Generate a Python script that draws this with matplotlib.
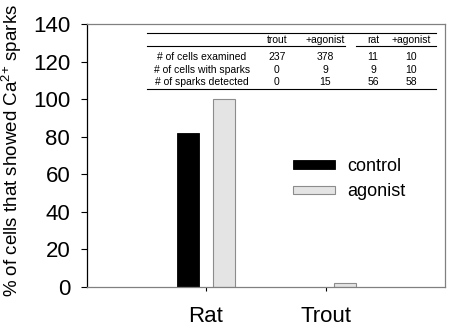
import matplotlib.pyplot as plt
import numpy as np

plt.rcParams['font.family'] = ['Liberation Sans', 'DejaVu Sans']
plt.rcParams['mathtext.fontset'] = 'custom'
plt.rcParams['mathtext.rm'] = 'Liberation Sans'
plt.rcParams['mathtext.it'] = 'Liberation Sans:italic'
plt.rcParams['mathtext.bf'] = 'Liberation Sans:bold'

# percent of cells showing sparks
species = ['Rat', 'Trout']
control = [82, 0]
agonist = [100, 2]

# counts table printed inside the plot
col_heads = ['trout', '+agonist', 'rat', '+agonist']
row_heads = ['# of cells examined', '# of cells with sparks', '# of sparks detected']
counts = [[237, 378, 11, 10],
          [0, 9, 9, 10],
          [0, 15, 56, 58]]

fig = plt.figure(figsize=(4.5, 3.26), dpi=100)
ax = fig.add_axes([0.193, 0.12, 0.796, 0.806])

x = np.arange(len(species))
w = 0.183
ax.bar(x - 0.148, control, w, color='black', edgecolor='black', linewidth=0.6,
       label='control', zorder=2)
ax.bar(x + 0.154, agonist, w, color='#e4e4e4', edgecolor='#8c8c8c', linewidth=0.8,
       label='agonist', zorder=2)

ax.set_xlim(-0.99, 1.99)
ax.set_ylim(0, 140)
ax.set_yticks(range(0, 141, 20))
ax.set_xticks(x)
ax.set_xticklabels(species, fontsize=16)
ax.tick_params(axis='y', labelsize=16, direction='out', length=4, width=0.8, pad=8)
ax.tick_params(axis='x', direction='out', length=3, width=0.8, pad=11)
ax.set_ylabel('% of cells that showed Ca$^{\\mathrm{2{+}}}$ sparks', fontsize=13.5)
ax.yaxis.label.set_verticalalignment('center')
ax.yaxis.set_label_coords(-0.21, 0.52)

for side in ['top', 'right', 'bottom']:
    ax.spines[side].set_color('#808080')
ax.spines['left'].set_color('black')
for s in ax.spines.values():
    s.set_linewidth(0.9)

ax.legend(loc='center left', bbox_to_anchor=(0.5746, 0.41), frameon=False,
          fontsize=13, handlelength=2.35, handleheight=0.33, labelspacing=0.45,
          handletextpad=0.65, borderpad=0, borderaxespad=0)

# table lines and text, in axes fraction
tr = ax.transAxes
ax.plot([0.1676, 0.9749], [0.9677, 0.9677], color='black', lw=0.8, transform=tr)
ax.plot([0.1676, 0.7207], [0.9163, 0.9163], color='black', lw=0.8, transform=tr)
ax.plot([0.7514, 0.9749], [0.9163, 0.9163], color='black', lw=0.8, transform=tr)
ax.plot([0.1676, 0.9749], [0.7529, 0.7529], color='black', lw=0.8, transform=tr)

col_x = [0.5307, 0.6648, 0.7989, 0.905]
row_y = [0.8745, 0.827, 0.7795]
for cx, h in zip(col_x, col_heads):
    ax.text(cx, 0.9411, h, transform=tr, ha='center', va='center', fontsize=7.5)
for ry, rh, vals in zip(row_y, row_heads, counts):
    ax.text(0.3204, ry, rh, transform=tr, ha='center', va='center', fontsize=7.5)
    for cx, v in zip(col_x, vals):
        ax.text(cx, ry, str(v), transform=tr, ha='center', va='center', fontsize=7.5)

fig.savefig('out.png', dpi=100)
